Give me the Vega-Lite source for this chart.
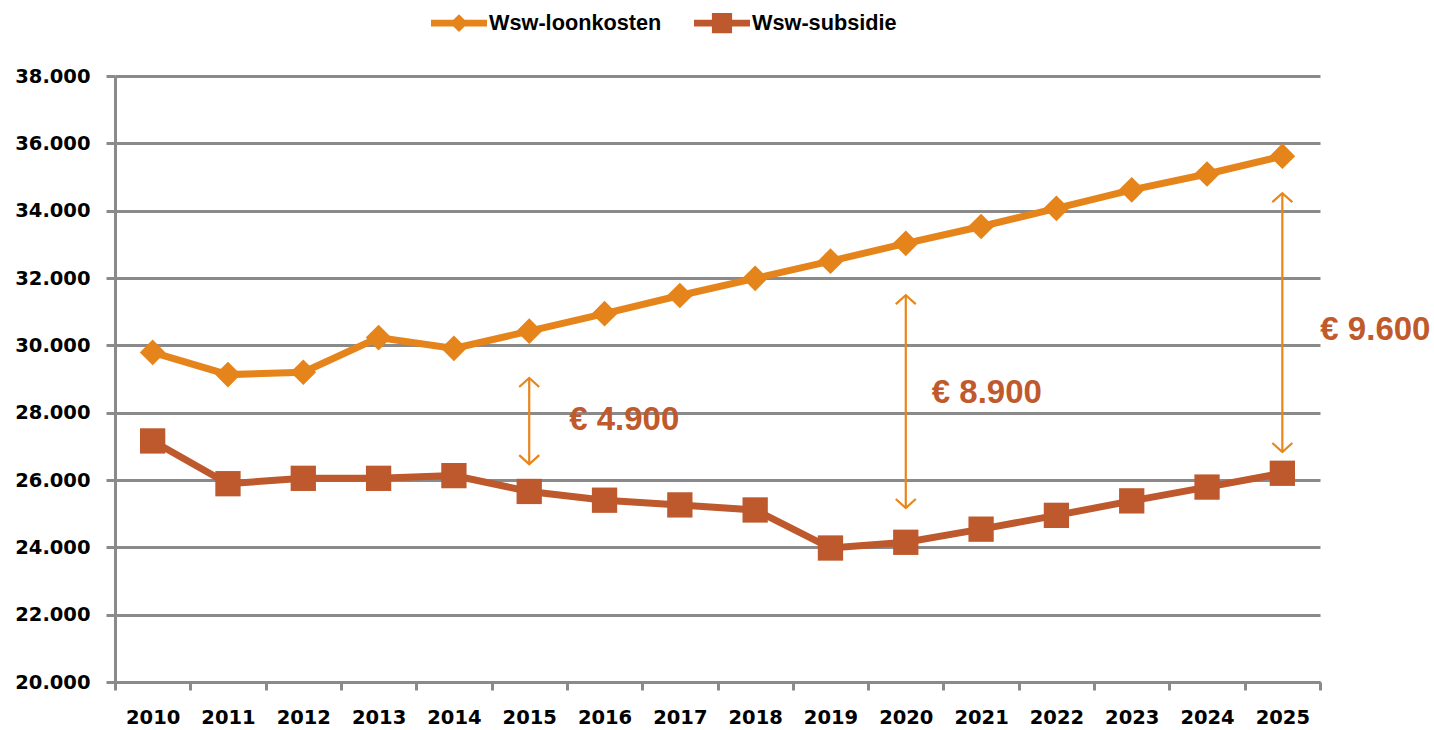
{
  "$schema": "https://vega.github.io/schema/vega-lite/v6.json",
  "autosize": "none",
  "width": 1205,
  "height": 606,
  "padding": {"left": 115, "top": 76, "right": 114, "bottom": 48},
  "background": "white",
  "datasets": {
    "series": [
      {"series": "Wsw-loonkosten", "year": "2010", "value": 29790},
      {"series": "Wsw-loonkosten", "year": "2011", "value": 29130},
      {"series": "Wsw-loonkosten", "year": "2012", "value": 29200},
      {"series": "Wsw-loonkosten", "year": "2013", "value": 30230},
      {"series": "Wsw-loonkosten", "year": "2014", "value": 29910},
      {"series": "Wsw-loonkosten", "year": "2015", "value": 30420},
      {"series": "Wsw-loonkosten", "year": "2016", "value": 30940},
      {"series": "Wsw-loonkosten", "year": "2017", "value": 31480},
      {"series": "Wsw-loonkosten", "year": "2018", "value": 31990},
      {"series": "Wsw-loonkosten", "year": "2019", "value": 32500},
      {"series": "Wsw-loonkosten", "year": "2020", "value": 33030},
      {"series": "Wsw-loonkosten", "year": "2021", "value": 33530},
      {"series": "Wsw-loonkosten", "year": "2022", "value": 34070},
      {"series": "Wsw-loonkosten", "year": "2023", "value": 34620},
      {"series": "Wsw-loonkosten", "year": "2024", "value": 35090},
      {"series": "Wsw-loonkosten", "year": "2025", "value": 35620},
      {"series": "Wsw-subsidie", "year": "2010", "value": 27160},
      {"series": "Wsw-subsidie", "year": "2011", "value": 25890},
      {"series": "Wsw-subsidie", "year": "2012", "value": 26050},
      {"series": "Wsw-subsidie", "year": "2013", "value": 26050},
      {"series": "Wsw-subsidie", "year": "2014", "value": 26130},
      {"series": "Wsw-subsidie", "year": "2015", "value": 25660},
      {"series": "Wsw-subsidie", "year": "2016", "value": 25400},
      {"series": "Wsw-subsidie", "year": "2017", "value": 25260},
      {"series": "Wsw-subsidie", "year": "2018", "value": 25110},
      {"series": "Wsw-subsidie", "year": "2019", "value": 23980},
      {"series": "Wsw-subsidie", "year": "2020", "value": 24150},
      {"series": "Wsw-subsidie", "year": "2021", "value": 24540},
      {"series": "Wsw-subsidie", "year": "2022", "value": 24950},
      {"series": "Wsw-subsidie", "year": "2023", "value": 25380},
      {"series": "Wsw-subsidie", "year": "2024", "value": 25790},
      {"series": "Wsw-subsidie", "year": "2025", "value": 26200}
    ],
    "arrows": [
      {"year": "2015", "top": 29030, "bottom": 26470},
      {"year": "2020", "top": 31490, "bottom": 25170},
      {"year": "2025", "top": 34520, "bottom": 26830}
    ],
    "labels": [
      {"year": "2015", "value": 27780, "label": "€ 4.900"},
      {"year": "2020", "value": 28580, "label": "€ 8.900"},
      {"year": "2025", "value": 30450, "label": "€ 9.600"}
    ]
  },
  "config": {
    "view": {"stroke": null},
    "axis": {
      "labelFont": "DejaVu Sans",
      "labelFontWeight": "bold",
      "labelFontSize": 19.5,
      "labelColor": "#000000",
      "domainColor": "#8A8A8A",
      "domainWidth": 3,
      "tickColor": "#8A8A8A",
      "tickWidth": 3,
      "gridColor": "#8A8A8A",
      "gridWidth": 3,
      "title": null
    },
    "legend": {
      "orient": "none",
      "legendX": 316,
      "legendY": -81,
      "direction": "horizontal",
      "padding": 0,
      "symbolSize": 3136,
      "symbolStrokeWidth": 0,
      "symbolOpacity": 1,
      "labelFont": "Liberation Sans",
      "labelFontWeight": "bold",
      "labelFontSize": 21.7,
      "labelColor": "#000000",
      "labelLimit": 0,
      "labelOffset": 2,
      "columnPadding": 32
    }
  },
  "layer": [
    {
      "data": {"name": "series"},
      "mark": {"type": "line", "strokeWidth": 7},
      "encoding": {
        "x": {
          "field": "year",
          "type": "ordinal",
          "scale": {"type": "band", "paddingInner": 0, "paddingOuter": 0},
          "axis": {"labelAngle": 0, "tickBand": "extent", "tickSize": 8, "labelPadding": 18, "grid": false}
        },
        "y": {
          "field": "value",
          "type": "quantitative",
          "scale": {"domain": [20000, 38000], "nice": false, "zero": false},
          "axis": {
            "values": [20000, 22000, 24000, 26000, 28000, 30000, 32000, 34000, 36000, 38000],
            "labelExpr": "replace(format(datum.value, ','), ',', '.')",
            "tickSize": 9,
            "labelPadding": 16,
            "grid": true
          }
        },
        "color": {
          "field": "series",
          "type": "nominal",
          "title": null,
          "scale": {"domain": ["Wsw-loonkosten", "Wsw-subsidie"], "range": ["#E5841B", "#BD592C"]}
        }
      }
    },
    {
      "data": {"name": "series"},
      "transform": [{"filter": "datum.year === '2010'"}],
      "mark": {"type": "point", "filled": true, "size": 0, "opacity": 1},
      "encoding": {
        "x": {"field": "year", "type": "ordinal"},
        "y": {"field": "value", "type": "quantitative"},
        "color": {"field": "series", "type": "nominal", "title": null},
        "shape": {
          "field": "series",
          "type": "nominal",
          "title": null,
          "scale": {
            "domain": ["Wsw-loonkosten", "Wsw-subsidie"],
            "range": [
              "M-1,-0.12L-0.2,-0.12L0,-0.32L0.2,-0.12L1,-0.12L1,0.12L0.2,0.12L0,0.32L-0.2,0.12L-1,0.12Z",
              "M-1,-0.12L-0.36,-0.12L-0.36,-0.36L0.36,-0.36L0.36,-0.12L1,-0.12L1,0.12L0.36,0.12L0.36,0.36L-0.36,0.36L-0.36,0.12L-1,0.12Z"
            ]
          }
        }
      }
    },
    {
      "data": {"name": "series"},
      "transform": [{"filter": "datum.series === 'Wsw-loonkosten'"}],
      "mark": {"type": "point", "shape": "diamond", "filled": true, "size": 660, "opacity": 1},
      "encoding": {
        "x": {"field": "year", "type": "ordinal"},
        "y": {"field": "value", "type": "quantitative"},
        "color": {"field": "series", "type": "nominal", "title": null}
      }
    },
    {
      "data": {"name": "series"},
      "transform": [{"filter": "datum.series === 'Wsw-subsidie'"}],
      "mark": {"type": "point", "shape": "square", "filled": true, "size": 640, "opacity": 1},
      "encoding": {
        "x": {"field": "year", "type": "ordinal"},
        "y": {"field": "value", "type": "quantitative"},
        "color": {"field": "series", "type": "nominal", "title": null}
      }
    },
    {
      "data": {"name": "arrows"},
      "mark": {"type": "rule", "color": "#E8861A", "strokeWidth": 2.2},
      "encoding": {
        "x": {"field": "year", "type": "ordinal"},
        "y": {"field": "top", "type": "quantitative"},
        "y2": {"field": "bottom"}
      }
    },
    {
      "data": {"name": "arrows"},
      "mark": {"type": "point", "shape": "M-1,0.9L0,0L1,0.9", "filled": false, "stroke": "#E8861A", "strokeWidth": 2.2, "size": 400, "opacity": 1},
      "encoding": {
        "x": {"field": "year", "type": "ordinal"},
        "y": {"field": "top", "type": "quantitative"}
      }
    },
    {
      "data": {"name": "arrows"},
      "mark": {"type": "point", "shape": "M-1,-0.9L0,0L1,-0.9", "filled": false, "stroke": "#E8861A", "strokeWidth": 2.2, "size": 400, "opacity": 1},
      "encoding": {
        "x": {"field": "year", "type": "ordinal"},
        "y": {"field": "bottom", "type": "quantitative"}
      }
    },
    {
      "data": {"name": "labels"},
      "transform": [{"filter": "datum.year === '2015'"}],
      "mark": {"type": "text", "align": "left", "baseline": "middle", "dx": 40, "font": "Liberation Sans", "fontWeight": "bold", "fontSize": 33, "color": "#C0592C"},
      "encoding": {
        "x": {"field": "year", "type": "ordinal"},
        "y": {"field": "value", "type": "quantitative"},
        "text": {"field": "label"}
      }
    },
    {
      "data": {"name": "labels"},
      "transform": [{"filter": "datum.year === '2020'"}],
      "mark": {"type": "text", "align": "left", "baseline": "middle", "dx": 26, "font": "Liberation Sans", "fontWeight": "bold", "fontSize": 33, "color": "#C0592C"},
      "encoding": {
        "x": {"field": "year", "type": "ordinal"},
        "y": {"field": "value", "type": "quantitative"},
        "text": {"field": "label"}
      }
    },
    {
      "data": {"name": "labels"},
      "transform": [{"filter": "datum.year === '2025'"}],
      "mark": {"type": "text", "align": "left", "baseline": "middle", "dx": 38, "font": "Liberation Sans", "fontWeight": "bold", "fontSize": 33, "color": "#C0592C"},
      "encoding": {
        "x": {"field": "year", "type": "ordinal"},
        "y": {"field": "value", "type": "quantitative"},
        "text": {"field": "label"}
      }
    }
  ]
}
